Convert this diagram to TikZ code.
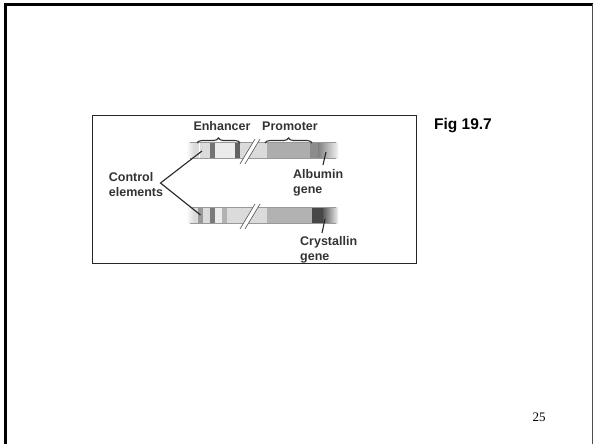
\documentclass[tikz,border=0pt]{standalone}
\usepackage{fontspec}
\setmainfont{Liberation Serif}
\newfontfamily\figfont{Liberation Sans}
\usetikzlibrary{decorations.pathreplacing}

\begin{document}
\begin{tikzpicture}[x=1pt, y=-1pt,
    labeltext/.style={font=\figfont\bfseries\fontsize{12.5}{15}\selectfont, text=black!80, inner sep=0pt, align=left},
    pointer/.style={draw=black!85, line width=1.1pt},
    bracebar/.style={decorate, decoration={brace, amplitude=5pt}, draw=black!80, line width=1.1pt},
    slash/.style={draw=black!60, line width=0.7pt},
    edge/.style={draw=black!40, line width=0.6pt}
]
\useasboundingbox (0,0) rectangle (594,444);

% slide frame
\draw[black, line width=3pt] (4,4.5) -- (593,4.5);
\draw[black, line width=3pt] (5,3) -- (5,444);
\draw[black!70, line width=1.2pt] (592.5,4) -- (592.5,444);

% figure box
\draw[black!85, line width=0.8pt] (92,115) rectangle (416,263);

% top bar (albumin)
\fill[black!14] (194,142) rectangle (338,158);
\shade[left color=white, right color=black!14] (186,142) rectangle (194,158);
\fill[white] (198.5,142) rectangle (200,158);
\fill[black!55] (210,142) rectangle (215,158);
\fill[black!8] (215,142) rectangle (235,158);
\fill[black!62] (235,142) rectangle (240,158);
\fill[black!32] (267,142) rectangle (310,158);
\fill[black!45] (310,142) rectangle (318,158);
\shade[left color=black!50, right color=black!5] (318,142) rectangle (338,158);

% bottom bar (crystallin)
\fill[black!14] (194,207) rectangle (338,223);
\shade[left color=white, right color=black!14] (186,207) rectangle (194,223);
\fill[black!40] (198,207) rectangle (203,223);
\fill[black!52] (210,207) rectangle (215,223);
\fill[black!8] (215,207) rectangle (222,223);
\fill[black!30] (222,207) rectangle (227,223);
\fill[black!30] (267,207) rectangle (312,223);
\fill[black!72] (312,207) rectangle (323,223);
\shade[left color=black!65, right color=black!6] (323,207) rectangle (338,223);

% bar edges and breaks
\foreach \ytop/\ybot in {142/158, 207/223} {
  \draw[edge] (190,\ytop) -- (336,\ytop);
  \draw[edge] (190,\ybot) -- (336,\ybot);
  \fill[white] (240,\ybot+6) -- (255,\ytop-3) -- (260,\ytop-3) -- (245,\ybot+6) -- cycle;
  \draw[slash] (240,\ybot+6) -- (255,\ytop-3);
  \draw[slash] (245,\ybot+6) -- (260,\ytop-3);
}

% labels
\node[labeltext] (enh) at (222,126) {Enhancer};
\node[labeltext] (prom) at (290,126) {Promoter};
\node[labeltext] (ctrl) at (136,184.5) {Control\\elements};
\node[labeltext, anchor=north west] (alb) at (293,169) {Albumin\\gene};
\node[labeltext, anchor=north west] (cry) at (300,236) {Crystallin\\gene};
\node[font=\figfont\bfseries\fontsize{15.5}{18}\selectfont, inner sep=0pt] (fig) at (463,126) {Fig 19.7};
\node[font=\fontsize{13}{15}\selectfont, inner sep=0pt] (page) at (539,417) {25};

% braces
\coordinate (enhL) at (197,143);
\coordinate (enhR) at (240,143);
\coordinate (promL) at (265,143);
\coordinate (promR) at (312,143);
\draw[bracebar] (enhL) -- (enhR);
\draw[bracebar] (promL) -- (promR);

% control element pointers
\coordinate (apex) at (160.5,183);
\coordinate (elemA) at (202,151);
\coordinate (elemB) at (200.5,215);
\draw[pointer] (elemA) -- (apex) -- (elemB);

% gene pointers
\coordinate (albtip) at (326,152);
\coordinate (albend) at (323,165);
\coordinate (crytip) at (325,219);
\coordinate (cryend) at (322,233);
\draw[pointer] (albtip) -- (albend);
\draw[pointer] (crytip) -- (cryend);

\end{tikzpicture}
\end{document}
